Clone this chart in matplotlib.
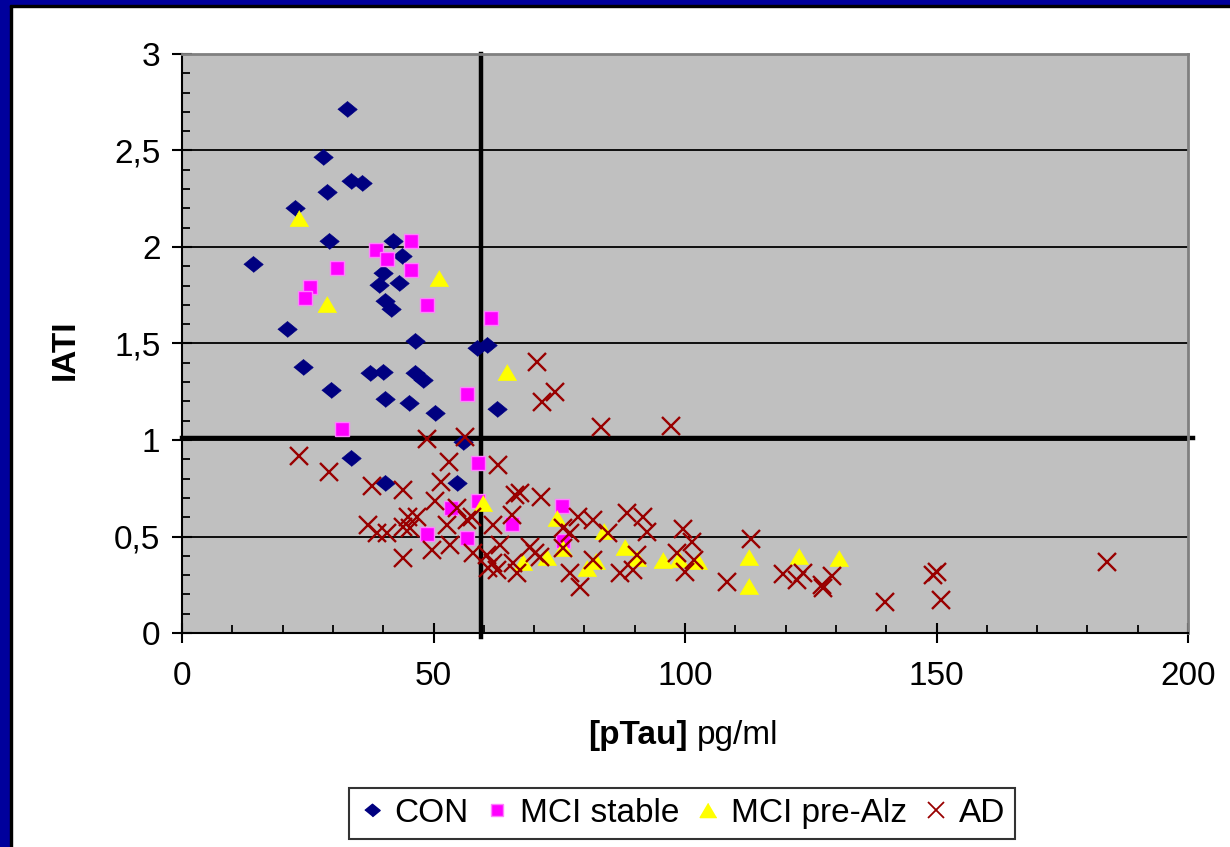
import matplotlib
matplotlib.use("Agg")
import matplotlib.pyplot as plt
from matplotlib.patches import Rectangle
from matplotlib.lines import Line2D
import numpy as np

plt.rcParams['font.family'] = ['Liberation Sans', 'DejaVu Sans']

# ---------------- data ----------------
con_x = [32.8, 28.0, 22.5, 33.6, 35.8, 28.8, 14.1, 29.2, 41.9, 43.7, 40.0, 39.2, 43.1,
         40.4, 41.6, 20.9, 24.1, 46.3, 37.4, 40.0, 46.3, 47.9, 29.6, 40.4, 45.1, 50.3,
         58.6, 60.6, 62.6, 55.9, 33.6, 40.4, 54.7]
con_y = [2.715, 2.466, 2.202, 2.342, 2.332, 2.285, 1.912, 2.031, 2.031, 1.953, 1.865, 1.803, 1.813,
         1.720, 1.679, 1.575, 1.378, 1.513, 1.347, 1.352, 1.347, 1.311, 1.259, 1.212, 1.192, 1.140,
         1.477, 1.492, 1.161, 0.990, 0.907, 0.777, 0.777]

mci_x = [45.5, 38.6, 40.8, 45.5, 30.8, 25.4, 24.5, 48.7, 61.4, 56.7, 31.8, 58.8, 58.8,
         53.5, 48.7, 56.7, 65.6, 75.5, 75.7]
mci_y = [2.031, 1.984, 1.938, 1.881, 1.891, 1.793, 1.736, 1.699, 1.632, 1.238, 1.057, 0.881, 0.684,
         0.648, 0.513, 0.492, 0.565, 0.658, 0.477]

pre_x = [23.3, 51.1, 28.8, 64.6, 59.8, 74.6, 83.9, 88.1, 90.5, 95.6, 98.8, 102.6, 80.5,
         82.3, 72.6, 67.8, 75.7, 112.7, 112.7, 122.7, 130.6]
pre_y = [2.150, 1.839, 1.705, 1.352, 0.674, 0.596, 0.528, 0.446, 0.389, 0.378, 0.383, 0.373, 0.337,
         0.373, 0.394, 0.368, 0.440, 0.394, 0.244, 0.399, 0.389]

ad_x = [23.3, 29.2, 48.7, 56.3, 53.1, 37.8, 43.9, 51.5, 50.3, 37.0, 38.8, 40.8, 44.9, 46.7,
        43.9, 45.3, 52.7, 54.7, 56.7, 57.7, 49.7, 43.9, 53.3, 57.9,
        62.8, 61.8, 63.2, 61.8, 60.8, 62.6, 60.6, 66.2, 67.2, 71.4, 65.6, 70.6, 71.6, 74.2,
        83.3, 97.2, 78.7, 81.7, 88.5, 91.7, 75.7, 77.1, 84.7, 65.8, 66.6, 69.2, 71.2, 70.2,
        75.7, 77.1, 79.1, 81.7, 87.1, 89.7, 90.5, 92.4, 99.6, 101.4, 98.4, 101.8, 100.0,
        108.3, 113.1, 119.5, 122.3, 123.5, 127.2, 127.4, 129.2, 139.8, 149.3, 150.1, 150.9, 183.9]
ad_y = [0.917, 0.834, 1.005, 1.016, 0.886, 0.762, 0.741, 0.782, 0.684, 0.560, 0.518, 0.518, 0.601, 0.601,
        0.549, 0.544, 0.560, 0.648, 0.585, 0.601, 0.430, 0.389, 0.456, 0.415,
        0.870, 0.560, 0.456, 0.363, 0.337, 0.326, 0.404, 0.715, 0.725, 0.705, 0.611, 1.404, 1.197, 1.249,
        1.067, 1.073, 0.601, 0.585, 0.622, 0.601, 0.544, 0.518, 0.518, 0.363, 0.311, 0.446, 0.394, 0.415,
        0.440, 0.311, 0.238, 0.378, 0.311, 0.326, 0.404, 0.523, 0.539, 0.472, 0.415, 0.378, 0.316,
        0.264, 0.487, 0.306, 0.275, 0.311, 0.249, 0.233, 0.295, 0.161, 0.301, 0.316, 0.171, 0.368]

series_names = ["CON", "MCI stable", "MCI pre-Alz", "AD"]
y_tick_vals = [0, 0.5, 1, 1.5, 2, 2.5, 3]
y_tick_labels = ["0", "0,5", "1", "1,5", "2", "2,5", "3"]
x_tick_vals = [0, 50, 100, 150, 200]
cutoff_x = 59.4
cutoff_y = 1.01

# ---------------- figure ----------------
W, H = 1230, 847
FS = 24
fig = plt.figure(figsize=(W / 100, H / 100), dpi=100)
fig.patch.set_facecolor("white")

# blue frame (left and top)
blue = "#00009C"
fig.add_artist(Rectangle((0, 0), 10 / W, 1, transform=fig.transFigure, color=blue, zorder=0))
fig.add_artist(Rectangle((10 / W, 0), 2 / W, 1 - 5 / H, transform=fig.transFigure, color="black", zorder=0))
fig.add_artist(Rectangle((0, 1 - 5 / H), 1, 5 / H, transform=fig.transFigure, color=blue, zorder=0))
fig.add_artist(Rectangle((10 / W, 1 - 7 / H), 1, 2 / H, transform=fig.transFigure, color="black", zorder=0))

ax = fig.add_axes([182 / W, 1 - 633 / H, (1188 - 182) / W, (633 - 54) / H])
ax.set_facecolor("#C0C0C0")
ax.set_xlim(0, 200)
ax.set_ylim(0, 3)

for v in y_tick_vals[1:-1]:
    ax.axhline(v, color="black", lw=1.3, zorder=1)

diamond = [(-1, 0), (0, 0.82), (1, 0), (0, -0.82)]
tri = [(0, 0.85), (-1, -0.85), (1, -0.85)]

# reference (cut-off) lines
ax.plot([cutoff_x, cutoff_x], [-0.02, 3], color="black", lw=3.2, zorder=2, clip_on=False)
ax.plot([0, 201], [cutoff_y, cutoff_y], color="black", lw=3.2, zorder=2, clip_on=False)

ax.plot(con_x, con_y, ls="none", marker=diamond, ms=14, mfc="#000080", mec="#000080", mew=0.5, zorder=3)
ax.plot(mci_x, mci_y, ls="none", marker="s", ms=10.5, mfc="#FF00FF", mec="#FF80FF", mew=1.0, zorder=3)
ax.plot(pre_x, pre_y, ls="none", marker=tri, ms=13.5, mfc="#FFFF00", mec="#FFFF00", mew=0.5, zorder=3)
ax.plot(ad_x, ad_y, ls="none", marker="x", ms=12.5, mec="#990000", mew=1.7, zorder=4)

# spines
for s in ["left", "bottom"]:
    ax.spines[s].set_color("black")
    ax.spines[s].set_linewidth(1.5)
for s in ["top", "right"]:
    ax.spines[s].set_color("#808080")
    ax.spines[s].set_linewidth(2)

ax.set_yticks(y_tick_vals)
ax.set_yticklabels(y_tick_labels)
ax.set_xticks(x_tick_vals)
ax.set_xticklabels([str(v) for v in x_tick_vals])
ax.set_yticks(np.arange(0, 3.0001, 0.1), minor=True)
ax.set_xticks(np.arange(0, 200.1, 10), minor=True)
ax.tick_params(which="major", direction="inout", length=15, width=1.5, labelsize=FS, pad=8, colors="black")
ax.tick_params(which="minor", direction="in", length=6, width=1.3, colors="black")
ax.tick_params(axis="x", which="major", pad=13)

# axis labels
fig.text(65 / W, 1 - 350 / H, "IATI", rotation=90, fontsize=FS, fontweight="bold", ha="center", va="center")
fig.text(688 / W, 1 - 735 / H, "[pTau]", fontsize=FS, fontweight="bold", ha="right", va="center")
fig.text(697 / W, 1 - 735 / H, "pg/ml", fontsize=FS, ha="left", va="center")

# legend
handles = [
    Line2D([], [], ls="none", marker=diamond, ms=11, mfc="#000080", mec="#000080"),
    Line2D([], [], ls="none", marker="s", ms=9, mfc="#FF00FF", mec="#FF80FF", mew=1.0),
    Line2D([], [], ls="none", marker=tri, ms=12, mfc="#FFFF00", mec="#FFFF00"),
    Line2D([], [], ls="none", marker="x", ms=11, mec="#990000", mew=1.3),
]
leg = fig.legend(handles, series_names, loc="center", bbox_to_anchor=(682 / W, 1 - 813 / H),
                 ncol=4, fontsize=FS, frameon=True, fancybox=False, edgecolor="black",
                 handlelength=0.75, handletextpad=0.3, columnspacing=0.5, borderpad=0.3,
                 borderaxespad=0)
leg.get_frame().set_linewidth(1.5)

fig.savefig("out.png", dpi=100, facecolor="white")
